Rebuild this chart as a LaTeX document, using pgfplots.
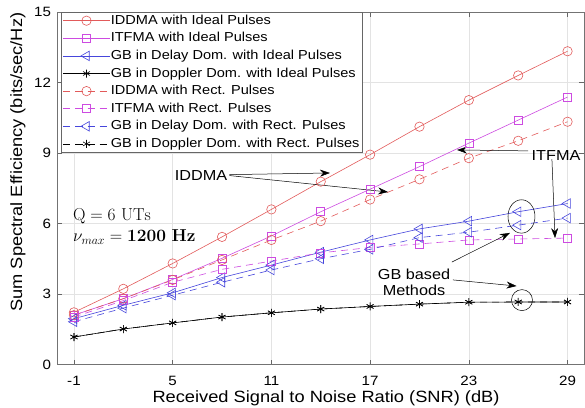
\documentclass[border=0pt]{standalone}
\usepackage{pgfplots}
\pgfplotsset{compat=1.18}
\usepackage{pgfplotstable}
\usepackage[no-math]{fontspec}
\setmainfont{Liberation Sans}[FakeStretch=1.12]
\usetikzlibrary{arrows.meta}
\definecolor{cIDD}{RGB}{226,90,90}
\definecolor{cITF}{RGB}{205,75,225}
\definecolor{cGB}{RGB}{70,70,220}

\pgfplotstableread{
x IDDMAi ITFMAi GBDi GBPi IDDMAr ITFMAr GBDr GBPr
-1 2.22 2.10 1.95 1.17 2.10 2.02 1.82 1.17
2 3.22 2.80 2.52 1.51 2.80 2.72 2.40 1.51
5 4.30 3.62 3.05 1.77 3.60 3.50 2.95 1.77
8 5.43 4.52 3.70 2.02 4.45 4.05 3.50 2.02
11 6.60 5.47 4.23 2.20 5.30 4.40 4.02 2.20
14 7.78 6.50 4.78 2.36 6.10 4.75 4.50 2.36
17 8.93 7.46 5.30 2.47 7.02 4.98 4.90 2.47
20 10.12 8.42 5.77 2.57 7.88 5.13 5.40 2.57
23 11.25 9.42 6.10 2.65 8.78 5.30 5.63 2.65
26 12.30 10.40 6.50 2.66 9.52 5.34 5.93 2.66
29 13.33 11.38 6.85 2.66 10.33 5.38 6.23 2.66
}\data

\begin{document}
\begin{tikzpicture}
\begin{axis}[
 scale only axis, width=526.5pt, height=352.5pt,
 xmin=-2, xmax=30, ymin=0, ymax=15,
 xtick={-1,5,11,17,23,29}, xticklabels={-1,5,11,17,23,29},
 ytick={0,3,6,9,12,15}, yticklabels={0,3,6,9,12,15},
 grid=major, major grid style={draw=black!11, line width=0.5pt},
 tick align=inside, major tick length=5pt,
 tick style={draw=black!60, line width=0.6pt},
 axis line style={draw=black!55, line width=0.8pt},
 ticklabel style={font=\fontsize{13.5}{14}\selectfont},
 xticklabel style={yshift=-8pt},
 yticklabel style={xshift=-3pt},
 xlabel={Received Signal to Noise Ratio (SNR) (dB)},
 ylabel={Sum Spectral Efficiency (bits/sec/Hz)},
 label style={font=\fontsize{16.3}{18}\selectfont},
 xlabel style={at={(axis description cs:0.51,0)}, anchor=center, yshift=-33.5pt},
 ylabel style={at={(axis description cs:-0.075,0.574)}, anchor=center},
 legend style={at={(axis description cs:0,1)}, anchor=north west, xshift=3.5pt,
   draw=black!60, fill=white, font=\fontsize{13}{14}\selectfont,
   inner xsep=2pt, inner ysep=1pt, row sep=2.6pt,
   nodes={inner sep=1pt, text height=10pt, text depth=3pt}},
 legend cell align=left,
 legend image code/.code={\draw[mark repeat=2,mark phase=2] plot coordinates {(0pt,0pt)(23pt,0pt)(46pt,0pt)};},
 clip=false,
 every axis plot/.append style={line width=0.6pt},
]
\addplot[cIDD, mark=o, mark size=4.7pt] table[x=x,y=IDDMAi]{\data};
\addlegendentry{IDDMA with Ideal Pulses}
\addplot[cITF, mark=square, mark size=4pt] table[x=x,y=ITFMAi]{\data};
\addlegendentry{ITFMA with Ideal Pulses}
\addplot[cGB, mark=triangle, mark size=5.5pt, mark options={rotate=90}] table[x=x,y=GBDi]{\data};
\addlegendentry{GB in Delay Dom. with Ideal Pulses}
\addplot[black, mark=asterisk, mark size=4pt] table[x=x,y=GBPi]{\data};
\addlegendentry{GB in Doppler Dom. with Ideal Pulses}
\addplot[cIDD, dash pattern=on 7pt off 5pt, mark=o, mark size=4.7pt, mark options={solid}] table[x=x,y=IDDMAr]{\data};
\addlegendentry{IDDMA with Rect. Pulses}
\addplot[cITF, dash pattern=on 7pt off 5pt, mark=square, mark size=4pt, mark options={solid}] table[x=x,y=ITFMAr]{\data};
\addlegendentry{ITFMA with Rect. Pulses}
\addplot[cGB, dash pattern=on 7pt off 5pt, mark=triangle, mark size=5.5pt, mark options={solid,rotate=90}] table[x=x,y=GBDr]{\data};
\addlegendentry{GB in Delay Dom. with Rect. Pulses}
\addplot[black, dash pattern=on 7pt off 5pt, mark=asterisk, mark size=4pt, mark options={solid}] table[x=x,y=GBPr]{\data};
\addlegendentry{GB in Doppler Dom. with Rect. Pulses}

\coordinate (ll) at (rel axis cs:0,0);
\coordinate (ur) at (rel axis cs:1,1);
% annotations
\node[font=\fontsize{14.5}{16}\selectfont] at (axis cs:6.72,8.06) {IDDMA};
\draw[-{Stealth[length=10pt,width=7pt]}, line width=0.5pt] (axis cs:8.45,8.08) -- (axis cs:14.56,8.15);
\draw[-{Stealth[length=10pt,width=7pt]}, line width=0.5pt] (axis cs:8.45,8.04) -- (axis cs:18.09,7.34);
\node[font=\fontsize{14.5}{16}\selectfont] at (axis cs:28.3,8.91) {ITFMA};
\draw[-{Stealth[length=10pt,width=7pt]}, line width=0.5pt] (axis cs:26.6,9.09) -- (axis cs:22.28,9.13);
\draw[-{Stealth[length=10pt,width=7pt]}, line width=0.5pt] (axis cs:28.05,8.74) -- (axis cs:28.24,5.38);
\node[font=\fontsize{14.5}{16}\selectfont, align=center, inner sep=0pt] at (axis cs:19.67,3.51) {GB based\\Methods};
\draw[-{Stealth[length=10pt,width=7pt]}, line width=0.5pt] (axis cs:21.97,4.36) -- (axis cs:25.5,5.6);
\draw[-{Stealth[length=10pt,width=7pt]}, line width=0.5pt] (axis cs:22.03,3.6) -- (axis cs:25.9,3.34);
\draw[line width=0.5pt] (axis cs:26.2,6.3) ellipse [x radius=13.5pt, y radius=16.7pt];
\draw[line width=0.5pt] (axis cs:26.23,2.74) circle [radius=10.5pt];
\node[anchor=west, font=\fontsize{18}{20}\selectfont, inner sep=0pt] at (axis cs:-1.06,6.32) {$\mathrm{Q} = 6~\mathrm{UTs}$};
\node[anchor=west, font=\fontsize{18}{20}\selectfont, inner sep=0pt] at (axis cs:-1.06,5.43) {$\nu_{max} = \mathbf{1200~Hz}$};
\end{axis}
\pgfresetboundingbox
\path ([xshift=-57.5pt,yshift=-42.5pt]ll) rectangle ([xshift=1pt,yshift=12pt]ur);
\end{tikzpicture}
\end{document}
